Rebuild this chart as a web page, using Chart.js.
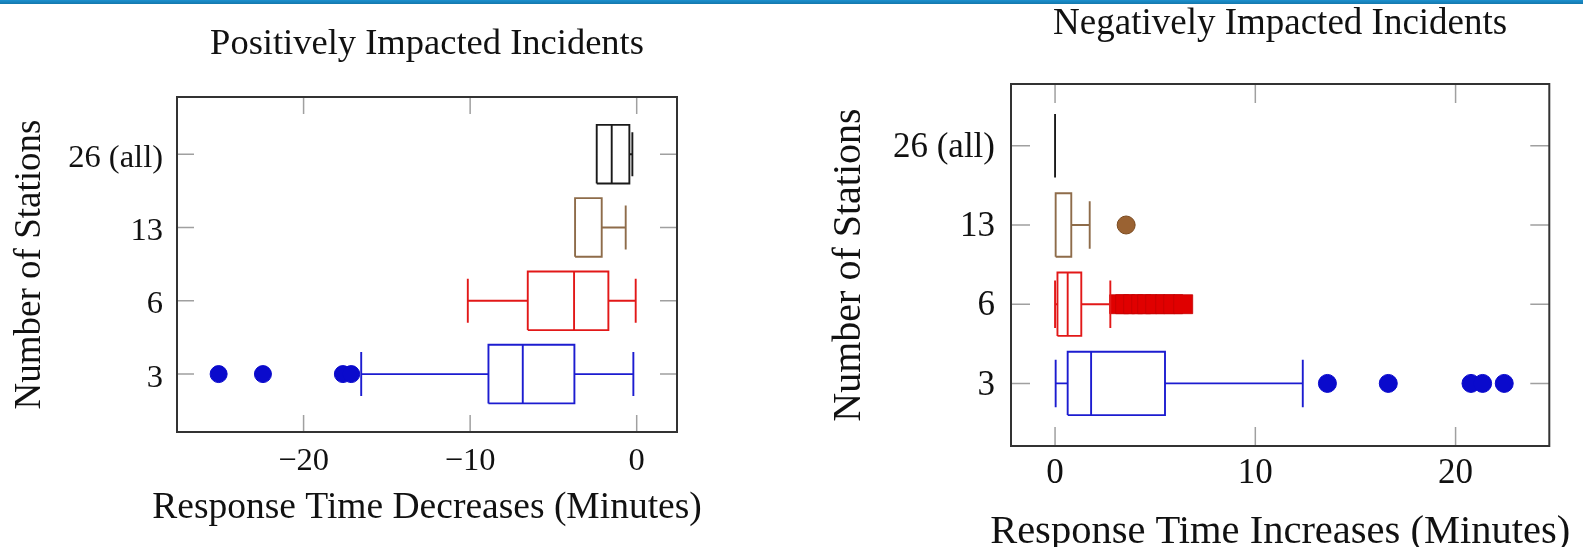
<!DOCTYPE html>
<html>
<head>
<meta charset="utf-8">
<script src="https://cdn.jsdelivr.net/npm/chart.js@4.4.1/dist/chart.umd.min.js"></script>
<style>
  html, body { margin: 0; padding: 0; background: #fff; }
  body { width: 1583px; height: 547px; position: relative; overflow: hidden; }
  .strip { position: absolute; left: 0; top: 0; width: 1583px; height: 4px; z-index: 2;
           background: linear-gradient(#1c90cf, #1378ad); }
  #leftBox { position: absolute; left: 0; top: 0; width: 790px; height: 547px; }
  #rightBox { position: absolute; left: 790px; top: 0; width: 793px; height: 547px; }
</style>
</head>
<body>
<div class="strip"></div>
<div id="leftBox"><canvas id="posChart"></canvas></div>
<div id="rightBox"><canvas id="negChart"></canvas></div>
<script>
// categories (y positions 1..4 from bottom)
const stationLabels = ['3', '6', '13', '26 (all)'];
const stationPos = [1, 2, 3, 4];
const boxColors = ['#1c1cd0', '#e21818', '#8e6c4a', '#1a1a1a'];

// positively impacted: response time decreases (minutes)
const posMin    = [-16.54, -10.14, -3.70, -2.40];
const posQ1     = [-8.90, -6.54, -3.70, -2.40];
const posMedian = [-6.84, -3.76, -3.70, -1.50];
const posQ3     = [-3.74, -1.70, -2.10, -0.44];
const posMax    = [-0.20, -0.06, -0.66, -0.26];
const posOutliers3 = [-25.10, -22.44, -17.64, -17.14];
const posTicks = [-20, -10, 0];

// negatively impacted: response time increases (minutes)
const negMin    = [0.03, 0.00, 0.03, 0.00];
const negQ1     = [0.63, 0.12, 0.03, 0.00];
const negMedian = [1.80, 0.63, 0.03, 0.00];
const negQ3     = [5.49, 1.31, 0.81, 0.00];
const negMax    = [12.37, 2.76, 1.73, 0.00];
const negOutliers3 = [13.60, 16.64, 20.77, 21.35, 22.43];
const negOutliers6 = [3.2, 3.5, 3.9, 4.3, 4.6, 5.0, 5.5, 5.9, 6.4];
const negOutliers13 = [3.55];
const negTicks = [0, 10, 20];

const serif = "'Liberation Serif', 'Times New Roman', serif";
const ink = '#111';

const boxDatasets = (mins, q1s, meds, q3s, maxs) => stationPos.map((y, i) => {
	const h = 0.4, c = 0.3;
	const gap = { x: meds[i], y: null };
	const pts = [
		{ x: q1s[i], y: y - h }, { x: q3s[i], y: y - h }, { x: q3s[i], y: y + h }, { x: q1s[i], y: y + h }, { x: q1s[i], y: y - h }, gap,
		{ x: meds[i], y: y - h }, { x: meds[i], y: y + h }, gap,
		{ x: mins[i], y: y }, { x: q1s[i], y: y }, gap,
		{ x: q3s[i], y: y }, { x: maxs[i], y: y }, gap,
		{ x: mins[i], y: y - c }, { x: mins[i], y: y + c }, gap,
		{ x: maxs[i], y: y - c }, { x: maxs[i], y: y + c }
	];
	return {
		type: 'line',
		data: pts,
		borderColor: boxColors[i],
		borderWidth: 1.9,
		pointRadius: 0,
		spanGaps: false,
		fill: false,
		tension: 0
	};
});

const outlierSet = (values, y, opts) => Object.assign({
	type: 'scatter',
	data: values.map(v => ({ x: v, y: y })),
	pointStyle: 'circle'
}, opts);

// inner ticks on all four sides + frame + x axis caption (scale titles get squeezed to the axis width)
const framePlugin = {
	id: 'frame',
	beforeDatasetsDraw: (chart, args, opts) => {
		const { ctx, chartArea: a, scales: { x, y } } = chart;
		const len = opts.tickLen;
		ctx.save();
		ctx.strokeStyle = '#a0a0a0';
		ctx.lineWidth = 1.5;
		ctx.beginPath();
		x.ticks.forEach(t => {
			const px = x.getPixelForValue(t.value);
			ctx.moveTo(px, a.top); ctx.lineTo(px, a.top + len);
			ctx.moveTo(px, a.bottom); ctx.lineTo(px, a.bottom - len);
		});
		y.ticks.forEach(t => {
			const py = y.getPixelForValue(t.value);
			ctx.moveTo(a.left, py); ctx.lineTo(a.left + len, py);
			ctx.moveTo(a.right, py); ctx.lineTo(a.right - len, py);
		});
		ctx.stroke();
		ctx.restore();
	},
	afterDatasetsDraw: (chart, args, opts) => {
		const { ctx, chartArea: a } = chart;
		ctx.save();
		ctx.strokeStyle = '#333';
		ctx.lineWidth = 2;
		ctx.strokeRect(a.left, a.top, a.right - a.left, a.bottom - a.top);
		ctx.fillStyle = ink;
		ctx.font = `${opts.captionSize}px ${serif}`;
		ctx.textAlign = 'center';
		ctx.textBaseline = 'middle';
		ctx.fillText(opts.caption, (a.left + a.right) / 2, opts.captionY);
		ctx.restore();
	}
};

const makeChart = (id, cfg) => new Chart(document.getElementById(id), {
	type: 'scatter',
	data: { datasets: cfg.datasets },
	options: {
		responsive: true,
		maintainAspectRatio: false,
		animation: false,
		events: [],
		layout: { padding: { left: 0, right: cfg.padRight, top: 0, bottom: 0 } },
		scales: {
			x: {
				type: 'linear',
				min: cfg.xMin,
				max: cfg.xMax,
				afterBuildTicks: s => { s.ticks = cfg.xTicks.map(v => ({ value: v })); },
				afterFit: s => { s.height = cfg.xAxisHeight; },
				grid: { display: false, drawTicks: false },
				border: { display: false },
				ticks: {
					color: ink,
					padding: cfg.xTickPad,
					font: { family: serif, size: cfg.tickSize, lineHeight: 1 },
					callback: v => String(v).replace('-', '\u2212')
				}
			},
			y: {
				type: 'linear',
				min: 0.21,
				max: 4.78,
				afterBuildTicks: s => { s.ticks = stationPos.map(v => ({ value: v })); },
				afterFit: s => { s.width = cfg.yAxisWidth; },
				grid: { display: false, drawTicks: false },
				border: { display: false },
				ticks: {
					color: ink,
					padding: cfg.yTickPad,
					labelOffset: cfg.yLabelOffset,
					font: { family: serif, size: cfg.tickSize },
					callback: v => stationLabels[stationPos.indexOf(v)]
				},
				title: {
					display: true,
					text: 'Number of Stations',
					color: ink,
					font: { family: serif, size: cfg.yTitleSize, lineHeight: 1 },
					padding: { top: cfg.yTitlePad, bottom: 0 }
				}
			}
		},
		plugins: {
			legend: { display: false },
			tooltip: { enabled: false },
			title: {
				display: true,
				fullSize: false,
				text: cfg.title,
				color: ink,
				font: { family: serif, size: cfg.titleSize, weight: 'normal', lineHeight: 1 },
				padding: cfg.titlePad
			},
			frame: { tickLen: cfg.tickLen, caption: cfg.xTitle, captionSize: cfg.xTitleSize, captionY: cfg.xTitleY }
		}
	},
	plugins: [framePlugin]
});

makeChart('posChart', {
	datasets: [
		...boxDatasets(posMin, posQ1, posMedian, posQ3, posMax),
		outlierSet(posOutliers3, 1, { backgroundColor: '#0a0acc', borderColor: '#0a0acc', pointRadius: 8.5, borderWidth: 1 })
	],
	xMin: -27.6, xMax: 2.42, xTicks: posTicks,
	title: 'Positively Impacted Incidents',
	xTitle: 'Response Time Decreases (Minutes)',
	padRight: 113,
	yAxisWidth: 177, xAxisHeight: 115,
	titleSize: 36.5, xTitleSize: 37.5, yTitleSize: 37, tickSize: 32.5,
	xTitleY: 508,
	titlePad: { top: 25.75, bottom: 34.75 },
	yTitlePad: 11.5,
	xTickPad: 13, yTickPad: 14, yLabelOffset: 4,
	tickLen: 17
});

makeChart('negChart', {
	datasets: [
		...boxDatasets(negMin, negQ1, negMedian, negQ3, negMax),
		outlierSet(negOutliers3, 1, { backgroundColor: '#0a0acc', borderColor: '#0a0acc', pointRadius: 9, borderWidth: 1 }),
		outlierSet(negOutliers6, 2, { pointStyle: 'rect', backgroundColor: '#e00000', borderColor: '#c40000', pointRadius: 13.4, borderWidth: 0.8 }),
		outlierSet(negOutliers13, 3, { backgroundColor: '#9a6232', borderColor: '#7a4a20', pointRadius: 9, borderWidth: 1 }),
		outlierSet(negOutliers13, 3, { pointStyle: 'crossRot', borderColor: '#5a3818', pointRadius: 5, borderWidth: 1 })
	],
	xMin: -2.2, xMax: 24.68, xTicks: negTicks,
	title: 'Negatively Impacted Incidents',
	xTitle: 'Response Time Increases (Minutes)',
	padRight: 33.7,
	yAxisWidth: 221, xAxisHeight: 101,
	titleSize: 37, xTitleSize: 40.5, yTitleSize: 40, tickSize: 35,
	xTitleY: 532,
	titlePad: { top: 5.5, bottom: 41.5 },
	yTitlePad: 39,
	xTickPad: 10.5, yTickPad: 16, yLabelOffset: 2,
	tickLen: 19
});
</script>
</body>
</html>
